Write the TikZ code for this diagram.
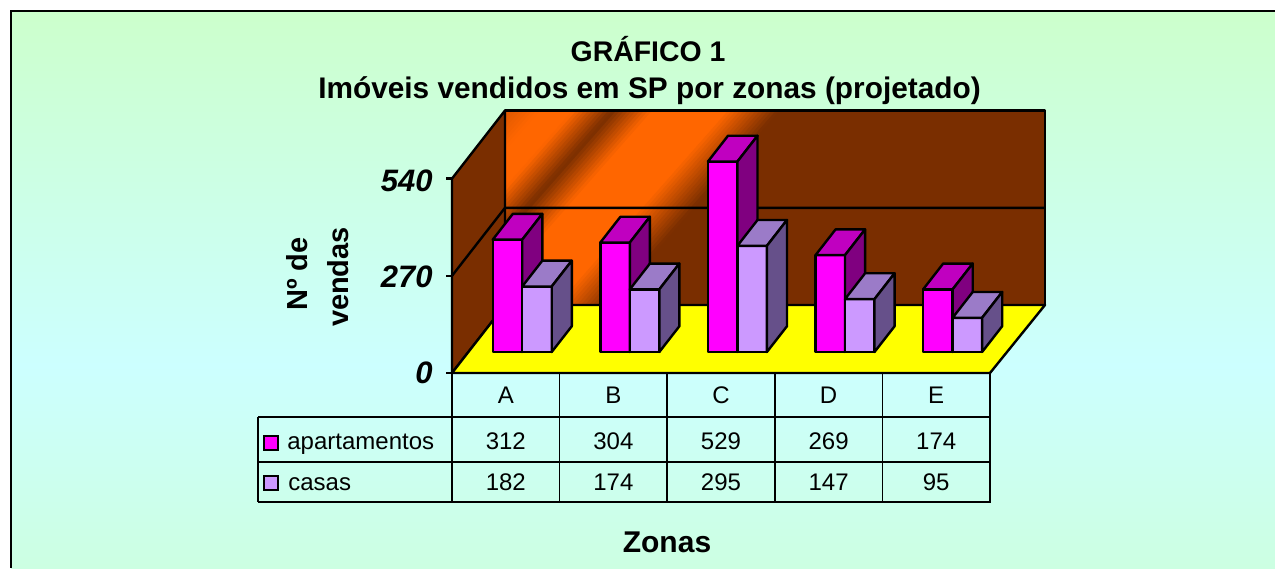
\documentclass[tikz,border=0pt]{standalone}
\usepackage{fontspec}
\setmainfont{Liberation Sans}
\definecolor{bgtop}{HTML}{CCFFCC}
\definecolor{bgmid}{HTML}{CCFFFF}
\definecolor{wallbrown}{HTML}{7A2E00}
\definecolor{wallorange}{HTML}{FF6600}
\definecolor{floorcol}{HTML}{FFFF00}
\definecolor{aptfront}{HTML}{FF00FF}
\definecolor{apttop}{HTML}{C000C0}
\definecolor{aptside}{HTML}{800080}
\definecolor{casfront}{HTML}{CC99FF}
\definecolor{castop}{HTML}{9B7BC8}
\definecolor{casside}{HTML}{66508A}
\tikzset{
  ttltext/.style={font=\fontsize{14.9}{17}\selectfont\bfseries, inner sep=0pt},
  axnum/.style={font=\fontsize{15.5}{17}\selectfont\bfseries\itshape, inner sep=0pt},
  yaxlab/.style={font=\fontsize{14.5}{16}\selectfont\bfseries, inner sep=0pt},
  tabtext/.style={font=\fontsize{12}{14}\selectfont, inner sep=0pt},
  outl/.style={draw=black, line width=1.2pt, line join=round},
  tabline/.style={draw=black, line width=0.8pt},
}
\newcommand\drawbarbox[5]{%
  \pgfmathsetmacro\xl{#1}%
  \pgfmathsetmacro\xr{#1+29.5}%
  \pgfmathsetmacro\yt{352-0.36*#2}%
  \filldraw[outl, fill=#3] (\xl,352) rectangle (\xr,\yt);
  \filldraw[outl, fill=#4] (\xl,\yt) -- ++(20.1,-25.8) -- ++(29.5,0) -- (\xr,\yt) -- cycle;
  \filldraw[outl, fill=#5] (\xr,\yt) -- ++(20.1,-25.8) -- (\xr+20.1,352-25.8) -- (\xr,352) -- cycle;
}
\begin{document}
\begin{tikzpicture}[x=0.5pt,y=-0.5pt]
\useasboundingbox (0,0) rectangle (1275,568);
\fill[white] (0,0) rectangle (1275,568);
\shade[top color=bgtop, bottom color=bgtop, middle color=bgmid] (11,11) rectangle (1275,720);
\draw[line width=1.2pt] (1275,11) -- (11,11) -- (11,568);

% titles
\node[ttltext, font=\fontsize{14.2}{16}\selectfont\bfseries, anchor=base] (t1) at (648,61) {GRÁFICO 1};
\node[ttltext, anchor=base] (t2) at (649.5,98.5) {Imóveis vendidos em SP por zonas (projetado)};

% back wall with diagonal gradient
\begin{scope}
  \clip (505,110.5) rectangle (1045,305);
  \fill[wallbrown] (505,110.5) rectangle (1045,305);
  \foreach \t in {0,3,...,210} {
    \pgfmathsetmacro\p{ifthenelse(\t<25,75+\t,ifthenelse(\t<50,100,ifthenelse(\t<80,100-(\t-50)*10/3,ifthenelse(\t<110,(\t-80)*10/3,ifthenelse(\t<165,100,ifthenelse(\t<205,100-(\t-165)*2.5,0))))))}
    \pgfmathsetmacro\ax{769+0.75*\t}
    \pgfmathsetmacro\ay{-190+0.66*\t}
    \pgfmathsetmacro\bx{241+0.75*\t}
    \pgfmathsetmacro\by{410+0.66*\t}
    \fill[wallorange!\p!wallbrown] (\ax,\ay) -- (\ax+2.8,\ay+2.5) -- (\bx+2.8,\by+2.5) -- (\bx,\by) -- cycle;
  }
\end{scope}
\draw[outl] (505,305) -- (505,110.5) -- (1045,110.5) -- (1045,305);
% left wall
\filldraw[outl, fill=wallbrown] (452,373) -- (452,178.6) -- (505,110.5) -- (505,305) -- cycle;
% floor
\filldraw[outl, fill=floorcol] (452,373) -- (505,305) -- (1045,305) -- (990,373) -- cycle;
% gridline 270
\draw[outl] (452,275.8) -- (505,207.8) -- (1045,207.8);
% ticks
\draw[outl] (446,373) -- (452,373);
\draw[outl] (446,275.8) -- (452,275.8);
\draw[outl] (446,178.6) -- (452,178.6);

% axis labels
\node[axnum, anchor=east] (l0) at (433,373) {0};
\node[axnum, anchor=east] (l270) at (433,276.5) {270};
\node[axnum, anchor=east] (l540) at (433,180.5) {540};
\node[yaxlab, anchor=base, rotate=90] (yl1) at (307,274) {Nº de};
\node[yaxlab, anchor=base, rotate=90] (yl2) at (348,277) {vendas};

% bars
\foreach \a/\c [count=\i from 0] in {312/182,304/174,529/295,269/147,174/95} {
  \pgfmathsetmacro\cx{452+107.6*(\i+0.5)}
  \drawbarbox{\cx-13.1}{\a}{aptfront}{apttop}{aptside}
  \drawbarbox{\cx+16.4}{\c}{casfront}{castop}{casside}
}

% table
\foreach \j in {0,...,5} {
  \draw[tabline] (452+107.6*\j,373) -- (452+107.6*\j,502);
}
\draw[tabline] (258,417) -- (990,417);
\draw[tabline] (258,462) -- (990,462);
\draw[tabline] (258,417) -- (258,502);
\draw[draw=black, line width=1.4pt] (257.5,502) -- (990.5,502);
\draw[tabline] (452,373) -- (990,373);

\foreach \lab/\a/\c [count=\i from 0] in {A/312/182,B/304/174,C/529/295,D/269/147,E/174/95} {
  \pgfmathsetmacro\cx{452+107.6*(\i+0.5)}
  \node[tabtext, anchor=base] (h\lab) at (\cx,403) {\lab};
  \node[tabtext, anchor=base] (a\lab) at (\cx,449) {\a};
  \node[tabtext, anchor=base] (c\lab) at (\cx,490) {\c};
}
\filldraw[fill=aptfront, draw=black, line width=0.9pt] (264,436) rectangle (278,450);
\filldraw[fill=casfront, draw=black, line width=0.9pt] (264,476) rectangle (278,490);
\node[tabtext, anchor=base west] (legA) at (287,449) {apartamentos};
\node[tabtext, anchor=base west] (legC) at (288,490) {casas};

% x axis title
\node[ttltext, font=\fontsize{15}{17}\selectfont\bfseries, anchor=base] (zonas) at (667,552.3) {Zonas};
\end{tikzpicture}
\end{document}
